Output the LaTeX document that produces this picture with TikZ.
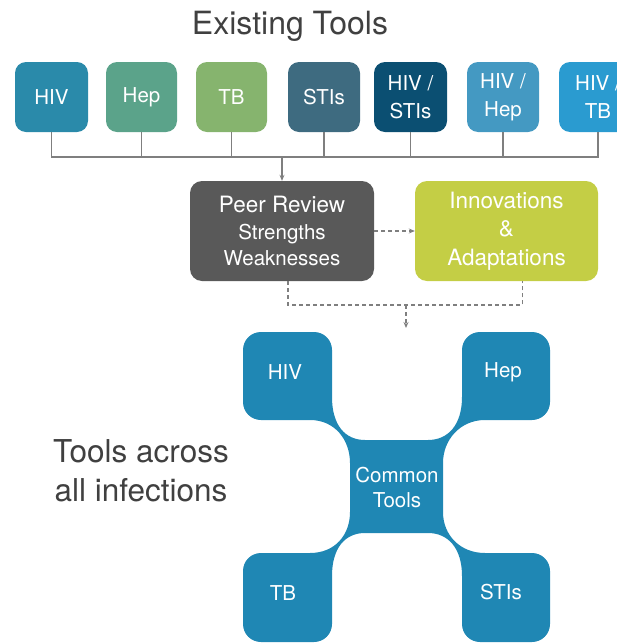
\documentclass[tikz,border=0pt]{standalone}
\usepackage{fontspec}
\setmainfont{TeX Gyre Heros}
\usetikzlibrary{arrows.meta}
\definecolor{cHIV}{HTML}{2A8AAA}
\definecolor{cHep}{HTML}{5BA38A}
\definecolor{cTB}{HTML}{86B46E}
\definecolor{cSTI}{HTML}{3E6B80}
\definecolor{cHS}{HTML}{0B4F72}
\definecolor{cHH}{HTML}{4499C2}
\definecolor{cHT}{HTML}{2A9BD0}
\definecolor{cPeer}{HTML}{595959}
\definecolor{cInno}{HTML}{C4CE45}
\definecolor{cShape}{HTML}{1F87B4}
\definecolor{cLine}{HTML}{7F7F7F}
\definecolor{cTitle}{HTML}{404040}
\tikzset{
  topbox/.style={rounded corners=11pt, minimum height=70pt, inner sep=0pt, text=white, align=center,
    font=\fontsize{20.5}{28}\selectfont},
  midbox/.style={rounded corners=12pt, minimum width=184pt, minimum height=100pt, inner sep=0pt, text=white, align=center},
  conn/.style={draw=cLine, line width=1.3pt},
  dconn/.style={draw=cLine, line width=1.3pt, dash pattern=on 4pt off 3pt},
  tip/.style={-{Stealth[length=6pt,width=5pt]}},
  title/.style={text=cTitle, font=\fontsize{31.5}{39}\selectfont, align=center},
  lbl/.style={text=white, font=\fontsize{20.5}{25}\selectfont, align=center}
}
\begin{document}
\begin{tikzpicture}[x=1pt,y=-1pt]
\useasboundingbox (0,0) rectangle (617,643);
\node[title, font=\fontsize{32}{39}\selectfont] (t1) at (290,26) {Existing Tools};
% top boxes
\node[topbox, fill=cHIV, minimum width=73pt] (hiv) at (51.5,97) {HIV};
\node[topbox, fill=cHep, minimum width=71pt] (hep) at (141.5,97) {Hep};
\node[topbox, fill=cTB, minimum width=71pt] (tb) at (231.5,97) {TB};
\node[topbox, fill=cSTI, minimum width=72pt] (sti) at (324,97) {STIs};
\node[topbox, fill=cHS, minimum width=73pt] (hs) at (410.5,97) {HIV /\\STIs};
\node[topbox, fill=cHH, minimum width=72pt] (hh) at (503,97) {HIV /\\Hep};
\node[topbox, fill=cHT, minimum width=78pt] (ht) at (598,97) {HIV /\\TB};
\coordinate (bus) at (0,157);
\draw[conn] (hiv.south) |- (ht.south |- bus) -- (ht.south);
\foreach \b in {hep,tb,sti,hs,hh} \draw[conn] (\b.south) -- (\b.south |- bus);
% middle boxes
\node[midbox, fill=cPeer, font=\fontsize{20.5}{26}\selectfont] (peer) at (282,231)
  {\fontsize{22.5}{27}\selectfont Peer Review\\[1pt]Strengths\\Weaknesses};
\node[midbox, fill=cInno, minimum width=183pt, font=\fontsize{22.5}{28.5}\selectfont] (inno) at (506.5,231)
  {Innovations\\\&\\Adaptations};
\draw[conn, tip] (peer.north |- bus) -- (peer.north);
\draw[dconn, tip] (peer.east) -- (inno.west);
\coordinate (jn) at (406,305);
\coordinate (ctop) at (406,328);
\draw[dconn] ([xshift=6pt]peer.south) |- (jn) -| ([xshift=16pt]inno.south);
\draw[dconn, tip] (jn) -- (ctop);
% common tools shape
\fill[cShape] (243,350)
 .. controls (243,340) and (251,332) .. (261,332)
 -- (314,332)
 .. controls (324,332) and (332,340) .. (332,350)
 -- (332,397)
 .. controls (332,425) and (345,440) .. (365,440)
 -- (428,440)
 .. controls (448,440) and (462,425) .. (462,397)
 -- (462,350)
 .. controls (462,340) and (470,332) .. (480,332)
 -- (532,332)
 .. controls (542,332) and (550,340) .. (550,350)
 -- (550,402)
 .. controls (550,412) and (542,420) .. (532,420)
 -- (485,420)
 .. controls (460,420) and (443,440) .. (443,463)
 -- (443,512)
 .. controls (443,535) and (460,553) .. (485,553)
 -- (532,553)
 .. controls (542,553) and (550,561) .. (550,571)
 -- (550,624)
 .. controls (550,634) and (542,642) .. (532,642)
 -- (480,642)
 .. controls (470,642) and (462,634) .. (462,624)
 -- (462,576)
 .. controls (462,548) and (448,533) .. (428,533)
 -- (365,533)
 .. controls (345,533) and (332,548) .. (332,576)
 -- (332,624)
 .. controls (332,634) and (324,642) .. (314,642)
 -- (261,642)
 .. controls (251,642) and (243,634) .. (243,624)
 -- (243,571)
 .. controls (243,561) and (251,553) .. (261,553)
 -- (310,553)
 .. controls (335,553) and (350,535) .. (350,512)
 -- (350,463)
 .. controls (350,440) and (335,420) .. (310,420)
 -- (261,420)
 .. controls (251,420) and (243,412) .. (243,402)
 -- cycle;
\node[lbl] (bhiv) at (285,372) {HIV};
\node[lbl] (bhep) at (503,372) {Hep};
\node[lbl] (btb) at (283,593) {TB};
\node[lbl] (bsti) at (501,592) {STIs};
\node[lbl] (common) at (397,487) {Common\\Tools};
\node[title] (t2) at (141,471) {Tools across\\all infections};
\end{tikzpicture}
\end{document}
